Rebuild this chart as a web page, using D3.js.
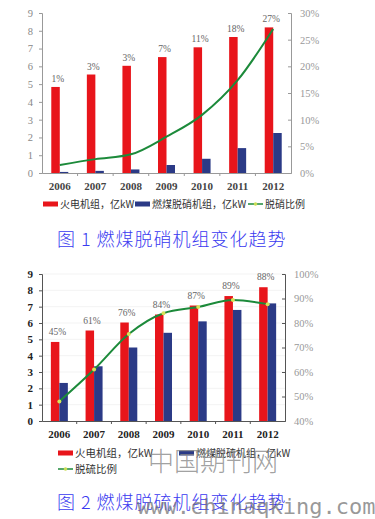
<!DOCTYPE html>
<html>
<head>
<meta charset="utf-8">
<script src="https://cdn.jsdelivr.net/npm/d3@7"></script>
<style>
  html, body { margin: 0; padding: 0; background: #fff; }
  svg { display: block; }
</style>
</head>
<body>
<div id="chart"></div>
<script>
// data
const years = ['2006', '2007', '2008', '2009', '2010', '2011', '2012'];
const thermal = [4.84, 5.54, 6.03, 6.52, 7.07, 7.65, 8.19];      // 火电机组，亿kW
const denitro = [0.06, 0.12, 0.2, 0.45, 0.8, 1.4, 2.25];        // 燃煤脱硝机组，亿kW
const denitroRatio = [1.5, 2.6, 3.5, 6.8, 10.9, 17.4, 27];      // 脱硝比例 %
const denitroLabels = ['1%', '3%', '3%', '7%', '11%', '18%', '27%'];
const desulf = [2.33, 3.35, 4.5, 5.4, 6.1, 6.8, 7.2];           // 燃煤脱硫机组，亿kW
const desulfRatio = [48, 61, 75.5, 84, 86.5, 89.4, 87.7];       // 脱硫比例 %
const desulfLabels = ['45%', '61%', '76%', '84%', '87%', '89%', '88%'];
const leftTicks = [0, 1, 2, 3, 4, 5, 6, 7, 8, 9];
const rightTicks1 = [0, 5, 10, 15, 20, 25, 30];
const rightTicks2 = [40, 50, 60, 70, 80, 90, 100];

const W = 375, H = 519;
const RED = '#e8151b', BLUE = '#2b3a86', GREEN = '#1c8a3a';
const SERIF = 'Liberation Serif, DejaVu Serif, serif';
const CJK = 'Noto Sans CJK SC, sans-serif';

const svg = d3.select('#chart').append('svg')
    .attr('width', W)
    .attr('height', H);

function setFont(sel, family, size, weight) {
    sel.attr('font-family', family)
        .attr('font-size', size)
        .attr('font-weight', weight || 'normal');
}

function drawChart(opt) {
    const g = svg.append('g');

    const x = d3.scaleBand().domain(years).range([opt.left, opt.right]);
    const y = d3.scaleLinear().domain([0, 9]).range([opt.bottom, opt.top]);
    const y2 = d3.scaleLinear().domain(opt.rightDomain).range([opt.bottom, opt.top]);
    const bw = 8.5;

    if (opt.grid) {
        g.append('g')
            .selectAll('line')
            .data(leftTicks.slice(1))
            .join('line')
            .attr('x1', opt.left).attr('x2', opt.right)
            .attr('y1', d => y(d)).attr('y2', d => y(d))
            .attr('stroke', '#f0f0f0')
            .attr('stroke-width', 0.8);
    }

    // bars
    g.append('g')
        .selectAll('rect')
        .data(thermal)
        .join('rect')
        .attr('x', (d, i) => x(years[i]) + x.bandwidth() / 2 - bw)
        .attr('y', d => y(d))
        .attr('width', bw)
        .attr('height', d => y(0) - y(d))
        .attr('fill', RED);

    g.append('g')
        .selectAll('rect')
        .data(opt.second)
        .join('rect')
        .attr('x', (d, i) => x(years[i]) + x.bandwidth() / 2)
        .attr('y', d => y(d))
        .attr('width', bw)
        .attr('height', d => y(0) - y(d))
        .attr('fill', BLUE);

    // value labels above red bars
    const lbl = g.append('g')
        .selectAll('text')
        .data(opt.labels)
        .join('text')
        .attr('x', (d, i) => x(years[i]) + x.bandwidth() / 2 - 2)
        .attr('y', (d, i) => y(thermal[i]) - opt.labelGap)
        .attr('text-anchor', 'middle')
        .attr('fill', '#666')
        .text(d => d);
    setFont(lbl, SERIF, 9.5);

    // axes
    const axisColor = opt.dark ? '#555' : '#999';
    const yAxis = g.append('g')
        .attr('transform', `translate(${opt.left},0)`)
        .call(d3.axisLeft(y).tickValues(leftTicks).tickSize(3).tickPadding(6));
    setFont(yAxis.selectAll('text'), SERIF, opt.dark ? 11 : 10.5, opt.dark ? 'bold' : 'normal');
    yAxis.selectAll('text').attr('fill', opt.dark ? '#222' : '#888');

    const yAxis2 = g.append('g')
        .attr('transform', `translate(${opt.right},0)`)
        .call(d3.axisRight(y2).tickValues(opt.rightTicks).tickSize(-3).tickPadding(9)
            .tickFormat(d => d + '%'));
    setFont(yAxis2.selectAll('text'), SERIF, 10.5);
    yAxis2.selectAll('text').attr('fill', '#999');

    const xAxis = g.append('g')
        .attr('transform', `translate(0,${opt.bottom})`)
        .call(d3.axisBottom(x).tickSize(0).tickPadding(9));
    setFont(xAxis.selectAll('text'), SERIF, 11, 'bold');
    xAxis.selectAll('text').attr('fill', opt.dark ? '#222' : '#444');
    // small ticks between groups
    xAxis.append('g')
        .selectAll('line')
        .data(years.slice(1))
        .join('line')
        .attr('x1', d => x(d)).attr('x2', d => x(d))
        .attr('y1', 0).attr('y2', 3)
        .attr('stroke', axisColor);

    [yAxis, yAxis2, xAxis].forEach(a => {
        a.selectAll('path, line').attr('stroke', axisColor);
    });

    // ratio line
    const line = d3.line()
        .x((d, i) => x(years[i]) + x.bandwidth() / 2)
        .y(d => y2(d))
        .curve(d3.curveMonotoneX);
    g.append('path')
        .datum(opt.ratio)
        .attr('d', line)
        .attr('fill', 'none')
        .attr('stroke', GREEN)
        .attr('stroke-width', 2);

    if (opt.markers) {
        g.append('g')
            .selectAll('circle')
            .data(opt.ratio)
            .join('circle')
            .attr('cx', (d, i) => x(years[i]) + x.bandwidth() / 2)
            .attr('cy', d => y2(d))
            .attr('r', 2)
            .attr('fill', '#d6e35a');
    }
}

drawChart({
    left: 42, right: 291, top: 13, bottom: 173,
    rightDomain: [0, 30], rightTicks: rightTicks1,
    second: denitro, ratio: denitroRatio, labels: denitroLabels,
    labelGap: 5, dark: false, grid: false, markers: false
});

drawChart({
    left: 42, right: 285, top: 274, bottom: 421,
    rightDomain: [40, 100], rightTicks: rightTicks2,
    second: desulf, ratio: desulfRatio, labels: desulfLabels,
    labelGap: 7, dark: true, grid: true, markers: true
});

// legends
function legendItem(x0, y0, type, color, label, size) {
    const g = svg.append('g').attr('transform', `translate(${x0},${y0})`);
    if (type === 'bar') {
        g.append('rect')
            .attr('x', 0).attr('y', -2.5)
            .attr('width', 15).attr('height', 5)
            .attr('fill', color);
    } else {
        g.append('line')
            .attr('x1', 0).attr('x2', 15)
            .attr('y1', 0).attr('y2', 0)
            .attr('stroke', color)
            .attr('stroke-width', 1.5);
        g.append('circle')
            .attr('cx', 7.5).attr('cy', 0).attr('r', 1.8)
            .attr('fill', '#c9dd55');
    }
    const t = g.append('text')
        .attr('x', 17)
        .attr('dy', '0.35em')
        .attr('fill', '#333')
        .text(label);
    setFont(t, CJK, size);
}

legendItem(43, 204, 'bar', RED, '火电机组，亿kW', 10);
legendItem(135, 204, 'bar', BLUE, '燃煤脱硝机组，亿kW', 10);
legendItem(248, 204, 'line', GREEN, '脱硝比例', 10);

legendItem(58, 453, 'bar', RED, '火电机组，亿kW', 10.5);
legendItem(179, 453, 'bar', BLUE, '燃煤脱硫机组，亿kW', 10);
legendItem(58, 469, 'line', GREEN, '脱硫比例', 10.5);

// captions
const captions = [
    { text: '图 1 燃煤脱硝机组变化趋势', y: 240 },
    { text: '图 2 燃煤脱硫机组变化趋势', y: 503 }
];
const cap = svg.append('g')
    .selectAll('text')
    .data(captions)
    .join('text')
    .attr('x', 57)
    .attr('y', d => d.y)
    .attr('dy', '0.35em')
    .style('letter-spacing', '1px')
    .attr('fill', '#3a3af0')
    .text(d => d.text);
setFont(cap, CJK, 18, 300);

// watermark
const wm1 = svg.append('text')
    .attr('x', 148)
    .attr('y', 471)
    .attr('fill', '#888')
    .attr('fill-opacity', 0.8)
    .text('中国期刊网');
setFont(wm1, CJK, 26, 300);
const wm2 = svg.append('text')
    .attr('x', 137)
    .attr('y', 514)
    .attr('fill', '#777')
    .attr('fill-opacity', 0.75)
    .text('www.chinaqking.com');
setFont(wm2, 'DejaVu Sans Mono, Liberation Mono, monospace', 22);
</script>
</body>
</html>
